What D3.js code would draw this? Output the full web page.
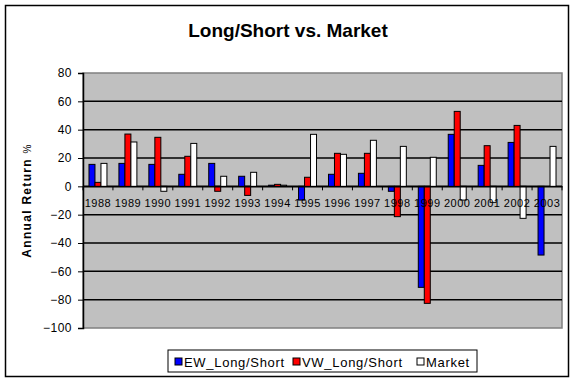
<!DOCTYPE html>
<html>
<head>
<meta charset="utf-8">
<script src="https://cdnjs.cloudflare.com/ajax/libs/d3/7.8.5/d3.min.js"></script>
<style>
  body { margin: 0; background: #fff; }
  text { font-family: Arial, "Liberation Sans", sans-serif; }
</style>
</head>
<body>
<div id="chart"></div>
<script>
var years = ["1988","1989","1990","1991","1992","1993","1994","1995","1996","1997","1998","1999","2000","2001","2002","2003"];
var ewLongShort = [15.5, 16.2, 15.5, 8.5, 16.2, 7.1, 0.8, -9.7, 8.5, 9.2, -3.5, -71.3, 36.7, 14.8, 31.0, -48.5];
var vwLongShort = [2.8, 36.9, 34.6, 21.2, -3.5, -6.4, 1.4, 6.4, 23.3, 23.3, -21.4, -82.6, 52.9, 28.7, 43.0, 0];
var market = [16.2, 31.3, -3.5, 30.3, 7.1, 9.9, 0.8, 36.7, 22.6, 32.5, 28.2, 20.5, -9.7, -11.3, -22.6, 28.2];
var seriesNames = ["EW_Long/Short", "VW_Long/Short", "Market"];
var seriesColors = ["#0000ff", "#ff0000", "#ffffff"];
var yTicks = [80, 60, 40, 20, 0, -20, -40, -60, -80, -100];

var svgWidth = 576;
var svgHeight = 382;
var margin = { top: 73, right: 14, bottom: 54, left: 83 };
var width = 562 - margin.left;
var height = 328 - margin.top;

var svg = d3.select("#chart")
    .append("svg")
    .attr("width", svgWidth)
    .attr("height", svgHeight);

// outer chart border
svg.append("rect")
    .attr("x", 5.5).attr("y", 5.5)
    .attr("width", 563).attr("height", 371)
    .attr("fill", "#fff")
    .attr("stroke", "#000")
    .attr("stroke-width", 1.5);

svg.append("text")
    .attr("x", 288).attr("y", 37)
    .attr("text-anchor", "middle")
    .attr("font-size", 19)
    .attr("font-weight", 700)
    .text("Long/Short vs. Market");

var chartGroup = svg.append("g")
    .attr("transform", `translate(${margin.left}, ${margin.top})`);

var x0 = d3.scaleBand().domain(years).range([0, width]).paddingInner(0.4).paddingOuter(0.2);
var x1 = d3.scaleBand().domain(seriesNames).range([0, x0.bandwidth()]);
var y = d3.scaleLinear().domain([-100, 80]).range([height, 0]);

chartGroup.append("rect")
    .attr("width", width).attr("height", height)
    .attr("fill", "#c0c0c0")
    .attr("stroke", "#808080")
    .attr("stroke-width", 1.5);

// gridlines
chartGroup.selectAll(".grid")
    .data(yTicks.filter(d => d !== 80 && d !== -100))
    .enter()
    .append("line")
    .attr("x1", 0).attr("x2", width)
    .attr("y1", d => y(d)).attr("y2", d => y(d))
    .attr("stroke", "#000")
    .attr("stroke-width", 1.5);

var rows = years.map(function(yr, i) {
    return { year: yr, values: [ewLongShort[i], vwLongShort[i], market[i]] };
});

var groups = chartGroup.selectAll(".yr")
    .data(rows)
    .enter()
    .append("g")
    .attr("transform", d => `translate(${x0(d.year)},0)`);

groups.selectAll("rect")
    .data(d => d.values.map((v, j) => ({ name: seriesNames[j], value: v, color: seriesColors[j] })))
    .enter()
    .filter(d => d.value !== 0)
    .append("rect")
    .attr("x", d => x1(d.name))
    .attr("width", x1.bandwidth())
    .attr("y", d => y(Math.max(0, d.value)))
    .attr("height", d => Math.abs(y(d.value) - y(0)))
    .attr("fill", d => d.color)
    .attr("stroke", "#000")
    .attr("stroke-width", 1);

// x axis at zero
var bottomAxis = d3.axisBottom(x0).tickSize(0).tickFormat("");
var xAxis = chartGroup.append("g")
    .attr("transform", `translate(0,${y(0)})`)
    .call(bottomAxis);
xAxis.select(".domain").attr("stroke", "#000").attr("stroke-width", 1.5);

var step = x0.step();
chartGroup.selectAll(".xtick")
    .data(d3.range(years.length + 1))
    .enter()
    .append("line")
    .attr("x1", i => i * step).attr("x2", i => i * step)
    .attr("y1", y(0)).attr("y2", y(0) + 4)
    .attr("stroke", "#000");

chartGroup.selectAll(".xlabel")
    .data(years)
    .enter()
    .append("text")
    .attr("x", d => x0(d) + x0.bandwidth() / 2)
    .attr("y", y(0) + 21)
    .attr("text-anchor", "middle")
    .attr("font-size", 11)
    .attr("letter-spacing", 0.5)
    .text(d => d);

var leftAxis = d3.axisLeft(y).tickValues(yTicks).tickSize(5).tickPadding(6);
var yAxis = chartGroup.append("g").call(leftAxis);
yAxis.select(".domain").attr("stroke", "#000").attr("stroke-width", 1.5);
yAxis.selectAll("text")
    .attr("font-size", 12)
    .attr("font-family", "Arial, 'Liberation Sans', sans-serif")
    .attr("letter-spacing", 0.5);

var yTitle = svg.append("text")
    .attr("transform", `translate(31,${margin.top + height / 2}) rotate(-90)`)
    .attr("text-anchor", "middle")
    .attr("font-size", 12)
    .attr("font-weight", 700)
    .attr("letter-spacing", 1.3);
yTitle.append("tspan").text("Annual Return ");
yTitle.append("tspan").attr("font-weight", 400).attr("font-size", 10).text("%");

// legend
var legend = svg.append("g").attr("transform", "translate(168,350)");
legend.append("rect")
    .attr("width", 309).attr("height", 22)
    .attr("fill", "#fff").attr("stroke", "#000");
var legendX = [7, 125, 249];
var items = legend.selectAll(".item")
    .data(seriesNames)
    .enter()
    .append("g")
    .attr("transform", (d, i) => `translate(${legendX[i]},0)`);
items.append("rect")
    .attr("x", 0).attr("y", 8)
    .attr("width", 7).attr("height", 7)
    .attr("fill", (d, i) => seriesColors[i])
    .attr("stroke", "#000");
items.append("text")
    .attr("x", 9).attr("y", 16.5)
    .attr("font-size", 13)
    .attr("letter-spacing", 0.7)
    .text(d => d);
</script>
</body>
</html>
